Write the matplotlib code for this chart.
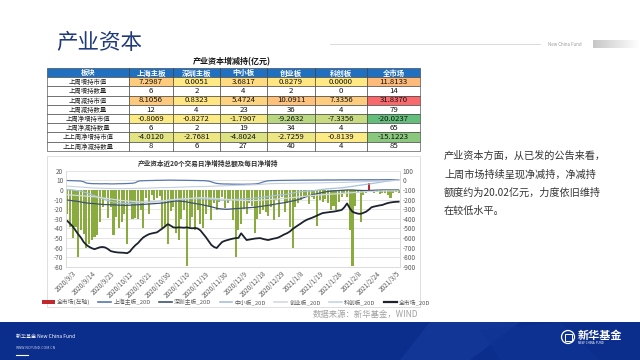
import numpy as np
import matplotlib
matplotlib.use('Agg')
import matplotlib.pyplot as plt
from matplotlib.patches import Rectangle, Circle, Polygon, Patch
from matplotlib.lines import Line2D

plt.rcParams['font.family'] = ['Noto Sans CJK SC', 'DejaVu Sans']
plt.rcParams['axes.unicode_minus'] = False

# ---- table data (亿元 / 家) ----
columns = ['上海主板', '深圳主板', '中小板', '创业板', '科创板', '全市场']
row_names = ['上周增持市值', '上周增持数量', '上周减持市值', '上周减持数量',
             '上周净增持市值', '上周净减持数量', '上上周净增持市值', '上上周净减持数量']
inc_value = [7.2987, 0.0051, 3.6817, 0.8279, 0.0000, 11.8133]
inc_count = [6, 2, 4, 2, 0, 14]
dec_value = [8.1056, 0.8323, 5.4724, 10.0911, 7.3356, 31.8370]
dec_count = [12, 4, 23, 36, 4, 79]
net_value = [-0.8069, -0.8272, -1.7907, -9.2632, -7.3356, -20.0237]
net_count = [6, 2, 19, 34, 4, 65]
prev_net_value = [-4.0120, -2.7681, -4.8024, -2.7259, -0.8139, -15.1223]
prev_net_count = [8, 6, 27, 40, 4, 85]

# ---- chart data ----
tick_labels = ['2020/9/3', '2020/9/14', '2020/9/23', '2020/10/12', '2020/10/21',
               '2020/10/30', '2020/11/10', '2020/11/19', '2020/11/30', '2020/12/9',
               '2020/12/18', '2020/12/29', '2021/1/8', '2021/1/19', '2021/1/28',
               '2021/2/8', '2021/2/24', '2021/3/5']

# daily net change, whole market (left axis)
daily_net = [-25, -38, -50, -38, -70, -42, -46, -60, -56, -52,
             -49, -47, -33, -18, -8, -29, -18, -47, -28, -40,
             -33, -25, -56, -14, -30, -29, -30, -21, -40, -8,
             -25, -5, -10, -8, -6, -40, -38, -56, -22, -18,
             -45, -52, -30, -21, -79, -38, -28, -42, -21, -35,
             -40, -25, -18, -31, -14, -21, -12, -7, -19, -14,
             -10, -31, -70, -42, -35, -20, -25, -14, -17, -45,
             -30, -25, -21, -23, -27, -18, -31, -10, -28, -7,
             -23, -14, -38, -60, -18, -14, -10, -7, -7, -15,
             -7, -9, -37, -10, -12, -9, -14, -21, -17, -21,
             -12, -7, -3, -7, -42, -79, -17, -3, -33, -5,
             -3, 7, -2, -3, -2, -4, -3, -3, -5, -8,
             -3, -2, -3]

# 20-day rolling sums (right axis)
sh_20d = [-2, -3, -4, -5, -6, -8, -15, -28, -32, -34,
          -35, -35, -36, -36, -35, -36, -37, -37, -36, -35,
          -35, -34, -33, -32, -30, -25, -10, -5, -4, -3,
          -2, -2, -1, 0, 0, 1, 1, 2, 2, 2,
          1, 1, 0, 0, 0, -1, -1, -2, -2, -3,
          -3, -5, -8, -15, -25, -32, -35, -37, -38, -38,
          -39, -40, -40, -40, -41, -41, -40, -40, -39, -38,
          -35, -28, -18, -10, -5, -3, -2, -2, -1, -1,
          0, 0, 0, 1, 1, 1, 2, 2, 2, 2,
          3, 3, 3, 3, 3, 4, 4, 4, 4, 4,
          5, 5, 5, 5, 5, 5, 5, 5, 6, 6,
          6, 6, 6, 6, 6, 6, 7, 7, 7, 7,
          7, 7, 7]
sz_20d = [-205, -208, -212, -216, -220, -225, -230, -235, -238, -240,
          -242, -245, -248, -250, -252, -252, -254, -255, -256, -258,
          -258, -260, -260, -258, -256, -255, -254, -252, -250, -248,
          -246, -244, -242, -240, -238, -236, -232, -228, -222, -218,
          -215, -215, -218, -220, -225, -230, -236, -240, -245, -250,
          -255, -262, -268, -275, -282, -290, -295, -298, -300, -300,
          -298, -296, -294, -292, -290, -288, -286, -284, -282, -280,
          -276, -272, -268, -264, -260, -255, -250, -245, -240, -236,
          -232, -226, -220, -214, -208, -200, -190, -180, -170, -160,
          -152, -145, -138, -132, -126, -120, -116, -112, -110, -108,
          -106, -104, -102, -100, -100, -100, -102, -104, -105, -106,
          -106, -105, -104, -103, -102, -101, -100, -100, -100, -100,
          -100, -100, -100]
zxb_20d = [-95, -98, -100, -104, -108, -112, -120, -130, -140, -150,
           -160, -170, -180, -190, -200, -210, -218, -225, -230, -234,
           -238, -240, -240, -240, -238, -236, -234, -232, -230, -228,
           -226, -224, -222, -220, -218, -215, -212, -208, -205, -202,
           -200, -198, -196, -194, -192, -190, -190, -190, -190, -190,
           -192, -194, -196, -198, -200, -202, -204, -205, -205, -204,
           -202, -200, -198, -196, -194, -192, -190, -188, -186, -184,
           -182, -180, -176, -172, -168, -164, -160, -156, -152, -150,
           -148, -144, -138, -132, -126, -120, -118, -116, -114, -112,
           -110, -106, -102, -98, -94, -90, -88, -86, -84, -82,
           -80, -78, -74, -70, -66, -62, -58, -54, -50, -46,
           -42, -38, -34, -30, -25, -20, -16, -12, -8, -4,
           0, 3, 5]
cyb_20d = [-150, -152, -154, -156, -158, -160, -162, -164, -166, -168,
           -170, -174, -178, -182, -186, -190, -194, -198, -202, -206,
           -210, -212, -214, -216, -218, -220, -222, -224, -226, -228,
           -230, -228, -226, -222, -218, -214, -210, -206, -203, -200,
           -198, -196, -194, -192, -190, -188, -186, -184, -182, -180,
           -180, -182, -184, -186, -188, -190, -192, -194, -196, -198,
           -200, -202, -204, -206, -208, -210, -210, -210, -210, -210,
           -208, -206, -204, -202, -200, -198, -196, -194, -192, -190,
           -188, -185, -182, -179, -176, -173, -170, -167, -164, -161,
           -158, -156, -154, -152, -150, -148, -146, -144, -142, -140,
           -138, -136, -134, -132, -130, -128, -126, -124, -122, -120,
           -118, -116, -115, -114, -113, -112, -111, -110, -110, -110,
           -110, -110, -110]
kcb_20d = [-60, -62, -64, -66, -68, -70, -72, -74, -76, -78,
           -80, -80, -82, -82, -84, -84, -85, -85, -86, -86,
           -86, -86, -85, -85, -84, -84, -83, -83, -82, -82,
           -80, -80, -78, -78, -76, -76, -75, -75, -74, -74,
           -72, -72, -70, -70, -68, -68, -66, -66, -65, -65,
           -64, -64, -62, -62, -60, -60, -58, -58, -56, -56,
           -54, -54, -52, -52, -50, -50, -48, -48, -46, -46,
           -44, -42, -40, -38, -36, -35, -34, -33, -32, -32,
           -31, -31, -30, -30, -30, -29, -29, -28, -28, -28,
           -27, -27, -26, -26, -25, -25, -24, -24, -23, -23,
           -22, -22, -21, -20, -19, -18, -17, -16, -15, -14,
           -13, -12, -11, -10, -9, -8, -7, -6, -5, -4,
           -3, -2, -1]
all_20d = [-422, -450, -480, -520, -560, -595, -640, -670, -690, -705,
           -715, -705, -695, -692, -698, -715, -735, -742, -747, -750,
           -751, -753, -757, -740, -705, -675, -652, -620, -592, -575,
           -560, -552, -546, -540, -520, -500, -478, -455, -470, -488,
           -492, -488, -490, -492, -488, -495, -498, -495, -500, -520,
           -555, -590, -630, -670, -692, -703, -670, -640, -628, -620,
           -612, -605, -600, -598, -550, -585, -620, -615, -610, -605,
           -602, -600, -608, -615, -620, -612, -605, -600, -590, -575,
           -560, -548, -530, -505, -485, -466, -448, -428, -412, -400,
           -390, -378, -365, -352, -340, -336, -332, -328, -325, -320,
           -314, -308, -280, -240, -290, -326, -338, -346, -348, -338,
           -326, -305, -280, -272, -266, -260, -256, -245, -236, -230,
           -226, -223, -222]

text_lines = ['产业资本方面，从已发的公告来看，',
              '上周市场持续呈现净减持，净减持',
              '额度约为20.02亿元，力度依旧维持',
              '在较低水平。']


def scale_color(v, vmin, vmid, vmax):
    green = np.array([99, 190, 123]) / 255
    yellow = np.array([255, 235, 132]) / 255
    red = np.array([248, 105, 107]) / 255
    if v <= vmid:
        t = (vmid - v) / (vmid - vmin)
        return tuple(yellow + (green - yellow) * t)
    t = (v - vmid) / (vmax - vmid)
    return tuple(yellow + (red - yellow) * t)


fig = plt.figure(figsize=(6.4, 3.6), dpi=100)
bg = fig.add_axes([0, 0, 1, 1])
bg.set_xlim(0, 640)
bg.set_ylim(360, 0)
bg.axis('off')

# header
bg.text(56, 43, '产业资本', fontsize=15.5, color='#1f3a78', va='center', ha='left')
bg.plot([330, 540], [44, 44], color='#d3d3d3', lw=0.6)
bg.text(548, 44, 'New China Fund', fontsize=3.2, color='#9a9a9a', va='center')
grad = np.linspace(0.78, 1.0, 50).reshape(1, -1)
bg.imshow(grad, cmap='gray', vmin=0, vmax=1, extent=[593, 640, 48, 40], aspect='auto')

# table
bg.text(232, 62, '产业资本增减持(亿元)', fontsize=5.8, fontweight='bold', ha='center', va='center', color='#111')
col_edges = [47, 129, 173, 220, 267, 315, 367, 420]
top, rh = 68, 9.2
rows = [inc_value, inc_count, dec_value, dec_count, net_value, net_count, prev_net_value, prev_net_count]
value_rows = [inc_value, dec_value, net_value, prev_net_value]
allv = np.concatenate(value_rows)
vmin, vmid, vmax = allv.min(), np.percentile(allv, 50), allv.max()
header = ['板块'] + columns
for j, h in enumerate(header):
    x0, x1 = col_edges[j], col_edges[j + 1]
    bg.add_patch(Rectangle((x0, top), x1 - x0, rh, facecolor='#1f70c1', edgecolor='#333', lw=0.4))
    bg.text((x0 + x1) / 2, top + rh / 2 + 0.3, h, fontsize=5.3, color='white', ha='center', va='center', fontweight='bold')
for r, (name, vals) in enumerate(zip(row_names, rows)):
    y0 = top + rh * (r + 1)
    bg.add_patch(Rectangle((col_edges[0], y0), col_edges[1] - col_edges[0], rh, facecolor='white', edgecolor='#333', lw=0.4))
    bg.text((col_edges[0] + col_edges[1]) / 2, y0 + rh / 2 + 0.3, name, fontsize=4.6, ha='center', va='center', color='#222')
    is_val = r % 2 == 0
    for j, v in enumerate(vals):
        x0, x1 = col_edges[j + 1], col_edges[j + 2]
        fc = scale_color(v, vmin, vmid, vmax) if is_val else 'white'
        bg.add_patch(Rectangle((x0, y0), x1 - x0, rh, facecolor=fc, edgecolor='#333', lw=0.4))
        s = '{:.4f}'.format(v) if is_val else str(v)
        bg.text((x0 + x1) / 2, y0 + rh / 2 + 0.3, s, fontsize=5.6, ha='center', va='center', color='#111')

# chart frame
bg.add_patch(Rectangle((47, 156), 373, 151, fill=False, edgecolor='#d9d9d9', lw=0.6))
bg.text(208, 163, '产业资本近20个交易日净增持总额及每日净增持', fontsize=4.8, fontweight='bold',
        ha='center', va='center', color='#333')

ax = fig.add_axes([66 / 640, 1 - 267 / 360, 334 / 640, 96.3 / 360])
x = np.arange(len(daily_net))
vals = np.array(daily_net)
bar_colors = np.where(vals > 0, '#c0282d', '#8aab3e')
ax.bar(x, vals, width=0.76, color=bar_colors, zorder=2)
ax.set_ylim(-80, 20)
ax.set_xlim(-0.5, len(daily_net) - 0.5)
ax.set_yticks(range(-80, 21, 10))
ax.yaxis.grid(True, color='#d9d9d9', lw=0.5)
ax.set_axisbelow(True)
ax.set_xticks(np.arange(2, len(daily_net), 7))
ax.set_xticklabels(tick_labels, rotation=45, ha='right', rotation_mode='anchor', fontsize=4.2, color='#595959')
ax.tick_params(axis='both', length=0, labelsize=4.6, colors='#595959', pad=2)

ax2 = ax.twinx()
ax2.set_ylim(-900, 100)
ax2.set_yticks(range(-900, 101, 100))
ax2.tick_params(axis='y', length=0, labelsize=4.6, colors='#595959', pad=2)
series = [(sh_20d, '上海主板_20D', '#5a78aa', 0.9),
          (sz_20d, '深圳主板_20D', '#3e5370', 0.9),
          (zxb_20d, '中小板_20D', '#a9c0dc', 0.9),
          (cyb_20d, '创业板_20D', '#d2d9e0', 0.9),
          (kcb_20d, '科创板_20D', '#c3cfe2', 0.8),
          (all_20d, '全市场_20D', '#1c232e', 1.3)]
for data, label, c, lw in series:
    ax2.plot(x, data, color=c, lw=lw)
for a in (ax, ax2):
    for s in a.spines.values():
        s.set_color('#d9d9d9')
        s.set_linewidth(0.5)
    a.spines['top'].set_visible(False)

handles = [Patch(facecolor='#c0282d')] + [Line2D([], [], color=c, lw=lw + 0.3) for _, _, c, lw in series]
labels = ['全市场(左轴)'] + [s[1] for s in series]
fig.legend(handles, labels, loc='center', bbox_to_anchor=(236 / 640, 1 - 302 / 360), ncol=7,
           frameon=False, fontsize=4.2, handlelength=2.2, handleheight=0.6, columnspacing=1.4,
           handletextpad=0.4, labelcolor='#595959')

bg.text(418, 314, '数据来源：新华基金，WIND', ha='right', va='center', fontsize=6, color='#a0a0a0')

# right commentary
for k, line in enumerate(text_lines):
    bg.text(444, 156 + k * 18.3, line, fontsize=7.3, color='#333', va='center', ha='left')

# footer
bg.add_patch(Rectangle((0, 322), 640, 38, facecolor='#0b2d8c', edgecolor='none'))
bg.add_patch(Polygon([[430, 322], [520, 322], [470, 360], [400, 360]], facecolor='#1a3f9f', alpha=0.5, edgecolor='none'))
bg.add_patch(Polygon([[480, 330], [560, 322], [600, 360], [500, 360]], facecolor='#0e3494', alpha=0.6, edgecolor='none'))
bg.text(16, 337, '新华基金 New China Fund', fontsize=3.6, color='white', style='italic', va='center')
bg.text(16, 348, 'WWW.NCFUND.COM.CN', fontsize=2.6, color='#c8d0e8', va='center')
bg.plot([16, 28], [355, 355], color='white', lw=0.8)
bg.add_patch(Circle((568, 337), 6.5, fill=False, edgecolor='white', lw=0.9))
bg.add_patch(Rectangle((564.5, 333.5), 7, 7, fill=False, edgecolor='white', lw=0.7))
bg.text(578, 335.5, '新华基金', fontsize=8, color='white', fontweight='bold', va='center')
bg.text(578, 343, 'NEW  CHINA  FUND', fontsize=2.2, color='white', va='center')

fig.savefig('out.png', dpi=100)
